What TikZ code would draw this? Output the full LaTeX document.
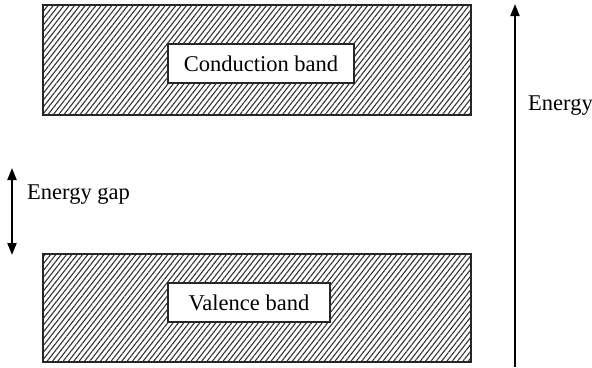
\documentclass[tikz,border=0pt]{standalone}
\usepackage{fontspec}
\setmainfont{Liberation Serif}
\usetikzlibrary{patterns.meta,arrows.meta}
\begin{document}
\begin{tikzpicture}[x=1pt,y=-1pt,
  band/.style={draw=black!85,line width=1.3pt,
    pattern={Lines[angle=52,distance=4.2pt,line width=1.1pt]},pattern color=black!80},
  tag/.style={draw=black!85,fill=white,line width=1.2pt,inner sep=0pt,
    font=\fontsize{22.5}{27}\selectfont},
  lbl/.style={font=\fontsize{22.5}{27}\selectfont,inner sep=0pt},
  axis/.style={line width=2pt,-{Triangle[length=12pt,width=9pt]}}]
\useasboundingbox (0,0) rectangle (592,367);
% energy bands
\draw[band] (43,5) rectangle (471,115);
\draw[band] (43,254) rectangle (471,362);
% band labels
\node[tag,minimum width=186pt,minimum height=39pt] (cb) at (261,63.5) {Conduction band};
\node[tag,minimum width=162pt,minimum height=39pt] (vb) at (249,302.5) {Valence band};
% energy gap marker
\coordinate (gtop) at (12,168);
\coordinate (gbot) at (12,255);
\draw[line width=2pt,{Triangle[length=12pt,width=9pt]}-{Triangle[length=12pt,width=9pt]}] (gtop) -- (gbot);
\node[lbl,anchor=west] (gap) at (27,195) {Energy gap};
% energy axis
\coordinate (ebot) at (515,367);
\coordinate (etop) at (515,4);
\draw[axis] (ebot) -- (etop);
\node[lbl,anchor=west] (en) at (528,106) {Energy};
\end{tikzpicture}
\end{document}
